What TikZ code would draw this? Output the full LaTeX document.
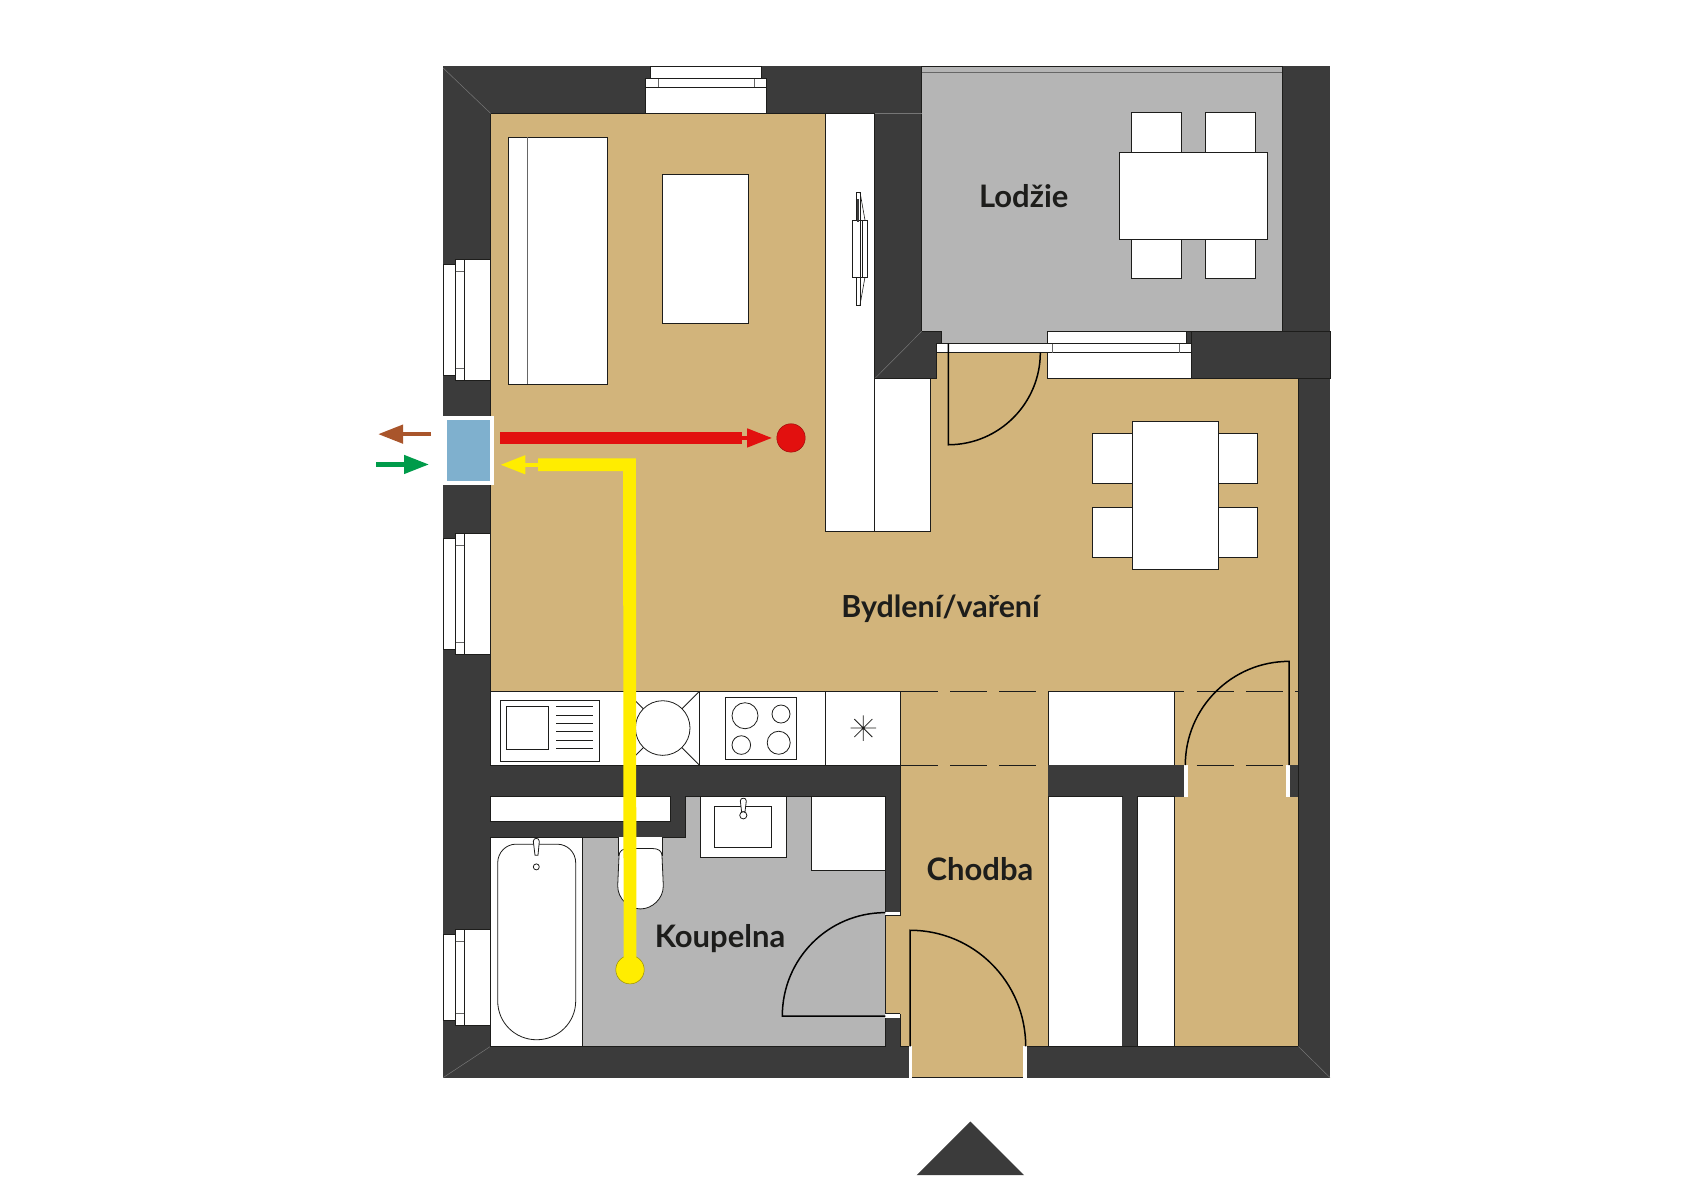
\documentclass[tikz,border=0pt]{standalone}
\usepackage{fontspec}
\setmainfont{Lato}
\usetikzlibrary{arrows.meta}
\definecolor{wallcol}{HTML}{3B3B3B}
\definecolor{tancol}{HTML}{D2B47B}
\definecolor{graycol}{HTML}{B5B5B5}
\definecolor{inkcol}{HTML}{1D1D1B}
\definecolor{unitcol}{HTML}{7FB0CE}
\definecolor{redcol}{HTML}{E2100F}
\definecolor{yellowcol}{HTML}{FFED00}
\definecolor{browncol}{HTML}{A9552B}
\definecolor{greencol}{HTML}{009B4A}
\newcommand{\sidewin}[2]{
\draw[piece] (443.2,#1+5) rectangle (455.7,#2-5);
\draw[piece] (455.7,#1) rectangle (464.3,#2);
\draw[piece] (464.3,#1) rectangle (490.7,#2);
\draw[seam] (455.7,#1+12) -- (464.3,#1+12);
\draw[seam] (455.7,#2-12) -- (464.3,#2-12);
}
\begin{document}
\begin{tikzpicture}
    [
    x=0.5pt, y=-0.5005pt
    , piece/.style = {draw=inkcol,fill=white,line width=0.4pt}
    , seam/.style = {draw=black!60,line width=0.5pt}
    , thinline/.style = {draw=inkcol,line width=0.4pt}
    , doorline/.style = {draw=black,line width=0.75pt}
    , corner/.style = {draw=white!30!wallcol,line width=0.25pt}
    , dot/.style = {circle,minimum size=14.2pt,inner sep=0pt,line width=0.25pt}
    , flowbar/.style = {line width=6.4pt,line join=miter}
    , flowtip/.style = {line width=2.2pt,-{Triangle[length=12.5pt,width=9pt]}}
    , roomlabel/.style = {anchor=base,inner sep=0pt,text=inkcol,font=\fontsize{15.5}{18}\selectfont\bfseries}
    ]
\useasboundingbox (0,0) rectangle (1706,1200);
\fill[wallcol] (443.2,66.3) rectangle (1330,1076.5);

\filldraw[fill=tancol,thinline] (490.7,113.3) -- (874.7,113.3) -- (874.7,378.3) -- (936.3,378.3) -- (936.3,352.3) -- (1047.3,352.3) -- (1047.3,378.3) -- (1298.3,378.3) -- (1298.3,1045.4) -- (1026,1045.4) -- (1026,1076.5) -- (909,1076.5) -- (909,1045.4) -- (900.3,1045.4) -- (900.3,690.7) -- (490.7,690.7) -- cycle;
\fill[tancol] (885.3,914.7) rectangle (900.6,1012.7);
\filldraw[fill=graycol,thinline] (921.7,66.3) -- (1282.3,66.3) -- (1282.3,331) -- (1047.3,331) -- (1047.3,343.3) -- (941,343.3) -- (941,331) -- (921.7,331) -- cycle;
\draw[seam] (921.7,72) -- (1282.3,72);
\filldraw[fill=graycol,thinline] (685.7,795.3) -- (885.3,795.3) -- (885.3,1045.4) -- (490.3,1045.4) -- (490.3,836.3) -- (685.7,836.3) -- cycle;

\draw[corner] (443.2,68) -- (490.7,113.3);
\draw[corner] (443.2,1076.5) -- (490.3,1045.4);
\draw[corner] (1298.3,1045.4) -- (1330,1076.5);
\draw[corner] (874.7,378.3) -- (921.7,331);
\draw[corner] (874.7,113.3) -- (921.7,113.3);
\draw[thinline] (1191.7,331) rectangle (1330,378.3);

\draw[piece] (650.7,66.3) rectangle (761.4,78.7);
\draw[piece] (645.7,78.7) rectangle (766.4,87.3);
\draw[piece] (645.7,87.3) rectangle (766.4,113.3);
\draw[seam] (658.2,78.7) -- (658.2,87.3);
\draw[seam] (754,78.7) -- (754,87.3);
\sidewin{259.3}{380}
\sidewin{533}{653.7}
\sidewin{928.3}{1024}

\draw[piece] (1047.3,331) rectangle (1186.7,343.3);
\draw[piece] (1047.3,352.3) rectangle (1191.7,378.3);
\draw[piece] (936.3,343.3) rectangle (1191.7,352.3);
\draw[seam] (1052.7,343.3) -- (1052.7,352.3);
\draw[seam] (1179.7,343.3) -- (1179.7,352.3);

\draw[piece] (825.4,113.3) rectangle (874.7,531);
\draw[piece] (874.7,378.3) rectangle (930.3,531);
\draw[thinline,line width=0.3pt] (856.3,192) rectangle (860,304.7);
\draw[thinline,line width=0.3pt] (860,192) -- (865,220) (865,276.7) -- (860,304.7);
\draw[thinline,line width=0.3pt,fill=white] (852.4,220.3) rectangle (866.9,276.7);
\draw[thinline,line width=0.3pt] (860,220.3) -- (860,276.7) (862.5,220.3) -- (862.5,276.7);
\fill[wallcol] (857,199) rectangle (859.4,222);

\draw[piece] (508.2,137.3) rectangle (607.5,383.7);
\draw[seam] (527.1,137.3) -- (527.1,383.7);
\draw[piece] (662.5,174.3) rectangle (748.6,322.7);

\draw[piece] (1131.7,112.7) rectangle (1181.7,152.3);
\draw[piece] (1205.3,112.7) rectangle (1255.7,152.3);
\draw[piece] (1131.7,238.7) rectangle (1181.7,278.3);
\draw[piece] (1205.3,238.7) rectangle (1255.7,278.3);
\draw[piece] (1119.3,152.3) rectangle (1267.7,238.7);

\draw[piece] (1092.3,433.3) rectangle (1132.3,483);
\draw[piece] (1092.3,507.3) rectangle (1132.3,557.3);
\draw[piece] (1218.3,433.3) rectangle (1257.7,483);
\draw[piece] (1218.3,507.3) rectangle (1257.7,557.3);
\draw[piece] (1132.3,421.3) rectangle (1218.3,569.3);

\draw[thinline,dash pattern=on 18.5pt off 6.15pt] (900.7,690.5) -- (1298.3,690.5);
\draw[thinline,dash pattern=on 18.5pt off 6.15pt] (900.7,764.3) -- (1298.3,764.3);

\draw[piece] (490.5,690.7) rectangle (900.3,764.3);
\draw[thinline] (699.3,690.7) -- (699.3,764.3);
\draw[thinline] (825.7,690.7) -- (825.7,764.3);
\draw[thinline] (626,690.7) -- (699.3,764.3);
\draw[thinline] (626,764.3) -- (699.3,690.7);
\draw[piece] (662.7,727.3) circle [radius=27.3];
\draw[piece] (500.3,699.3) rectangle (599.3,760.7);
\draw[piece] (506.7,705.3) rectangle (548.7,748.7);
\draw[thinline] (556,705.7) -- (593.3,705.7) (556,714.3) -- (593.3,714.3) (556,722.7) -- (593.3,722.7) (556,731) -- (593.3,731) (556,739.3) -- (593.3,739.3) (556,747.7) -- (593.3,747.7);
\draw[piece] (725,696.7) rectangle (796.7,758.7);
\draw[thinline] (745,715) circle [radius=13] (781,713.3) circle [radius=9] (741.3,744.3) circle [radius=9.3] (778.7,742) circle [radius=11.5];
\draw[thinline] (850.6,727.3) -- (876,727.3) (863.3,714.6) -- (863.3,740) (854.3,718.3) -- (872.3,736.3) (854.3,736.3) -- (872.3,718.3);

\draw[piece] (490.5,795.3) rectangle (670,821);
\draw[piece] (490.3,836.3) rectangle (582.3,1045.4);
\draw[piece] (497.7,862) .. controls (497.7,851.5) and (506,843.3) .. (516,843.3) -- (557,843.3) .. controls (567.5,843.3) and (575.7,851.5) .. (575.7,862) -- (575.7,1000) .. controls (575.7,1021.5) and (558,1038.7) .. (536.7,1038.7) .. controls (515,1038.7) and (497.7,1021.5) .. (497.7,1000) -- cycle;
\draw[piece] (533.3,840.5) .. controls (533.3,836.5) and (539.3,836.5) .. (539.3,840.5) -- (538,854.3) -- (535,854.3) -- cycle;
\draw[thinline] (536.3,866) circle [radius=3];
\draw[piece] (618.7,836.3) -- (618.7,855) -- (662.3,855) -- (662.3,836.3);
\draw[piece] (619,855) .. controls (619,850) and (623,847.7) .. (628,847.7) -- (653,847.7) .. controls (658,847.7) and (662,850) .. (662,855) -- (663.3,885) .. controls (663.3,898) and (652,908) .. (640.5,908) .. controls (629,908) and (617.7,898) .. (617.7,885) -- cycle;
\draw[piece] (700,795.3) rectangle (786.7,856.7);
\draw[piece] (714.3,805.3) rectangle (771.7,846.3);
\draw[piece] (740.3,800) .. controls (740.3,796.5) and (746.3,796.5) .. (746.3,800) -- (745,811) -- (741.6,811) -- cycle;
\draw[piece] (743.3,814.5) circle [radius=3.6];
\draw[piece] (811.7,795.3) rectangle (885.3,869.3);

\fill[white] (885.3,911) rectangle (900.3,914.7);
\fill[white] (885.3,1012.7) rectangle (900.3,1016.7);
\draw[thinline] (885.3,914.7) -- (900.3,914.7) (885.3,1012.7) -- (900.3,1012.7);

\draw[piece] (1048.3,690.7) rectangle (1173.9,764.3);
\fill[wallcol] (1048.3,764.3) rectangle (1184,795.7);
\fill[white] (1184,764.3) rectangle (1188,795.7);
\fill[white] (1286.3,764.3) rectangle (1290.3,795.7);
\fill[wallcol] (1290.3,764.3) rectangle (1298.3,795.7);
\draw[piece] (1048.3,795.7) rectangle (1122,1045.4);
\fill[wallcol] (1122,795.7) rectangle (1137,1045.4);
\draw[piece] (1137,795.7) rectangle (1174,1045.4);
\fill[white] (909,1045.4) rectangle (912.4,1076.5);
\fill[white] (1023.3,1045.4) rectangle (1026.7,1076.5);

\draw[doorline] (948.3,343.3) -- (948.3,444.3) .. controls (999,444.3) and (1040.3,403) .. (1040.3,352.3);
\draw[doorline] (885.3,1015) -- (782.3,1015) .. controls (782.3,958) and (828,911.7) .. (885.3,911.7);
\draw[doorline] (910,1045.4) -- (910,929.3) .. controls (974,929.3) and (1025.7,981) .. (1025.7,1045.4);
\draw[doorline] (1289,764.3) -- (1289,660.7) .. controls (1231.8,660.7) and (1185.3,707) .. (1185.3,764.3);

\node[minimum width=23.7pt,minimum height=32.5pt,inner sep=0pt,fill=unitcol,draw=white,line width=2pt] (ventunit) at (468.7,450.35) {};
\node[dot,fill=redcol,draw=redcol!70!black] (reddot) at (791,437.5) {};
\node[dot,fill=yellowcol,draw=yellowcol!60!black] (yellowdot) at (630,968.7) {};

\coordinate (redend) at (742,437.5);
\coordinate (yellowbend) at (629.5,464.3);
\coordinate (yellowend) at (538,464.3);
\coordinate (brownend) at (378,433.7);
\coordinate (greenstart) at (376.4,464);

\draw[flowbar,draw=redcol,shorten <=3pt] (ventunit.east |- redend) -- (redend);
\draw[flowtip,draw=redcol,fill=redcol,shorten >=2.2pt] (redend) -- (reddot);
\draw[flowbar,draw=yellowcol,shorten <=-1.5pt] (yellowdot) -- (yellowbend) -- (yellowend);
\draw[flowtip,draw=yellowcol,fill=yellowcol,shorten >=3pt] (yellowend) -- (ventunit.east |- yellowend);
\draw[flowtip,draw=browncol,fill=browncol,shorten <=6pt] (ventunit.west |- brownend) -- (brownend);
\draw[flowtip,draw=greencol,fill=greencol,shorten >=7pt] (greenstart) -- (ventunit.west |- greenstart);

\node[roomlabel] (lodzie) at (1023.7,207.3) {Lodžie};
\node[roomlabel,font=\fontsize{15.2}{18}\selectfont\bfseries] (bydleni) at (940.5,617) {Bydlení/vaření};
\node[roomlabel] (chodba) at (980,880) {Chodba};
\node[roomlabel] (koupelna) at (720,946.7) {Koupelna};

\fill[wallcol] (970.3,1120.4) -- (1024,1174) -- (916.7,1174) -- cycle;
\end{tikzpicture}
\end{document}
